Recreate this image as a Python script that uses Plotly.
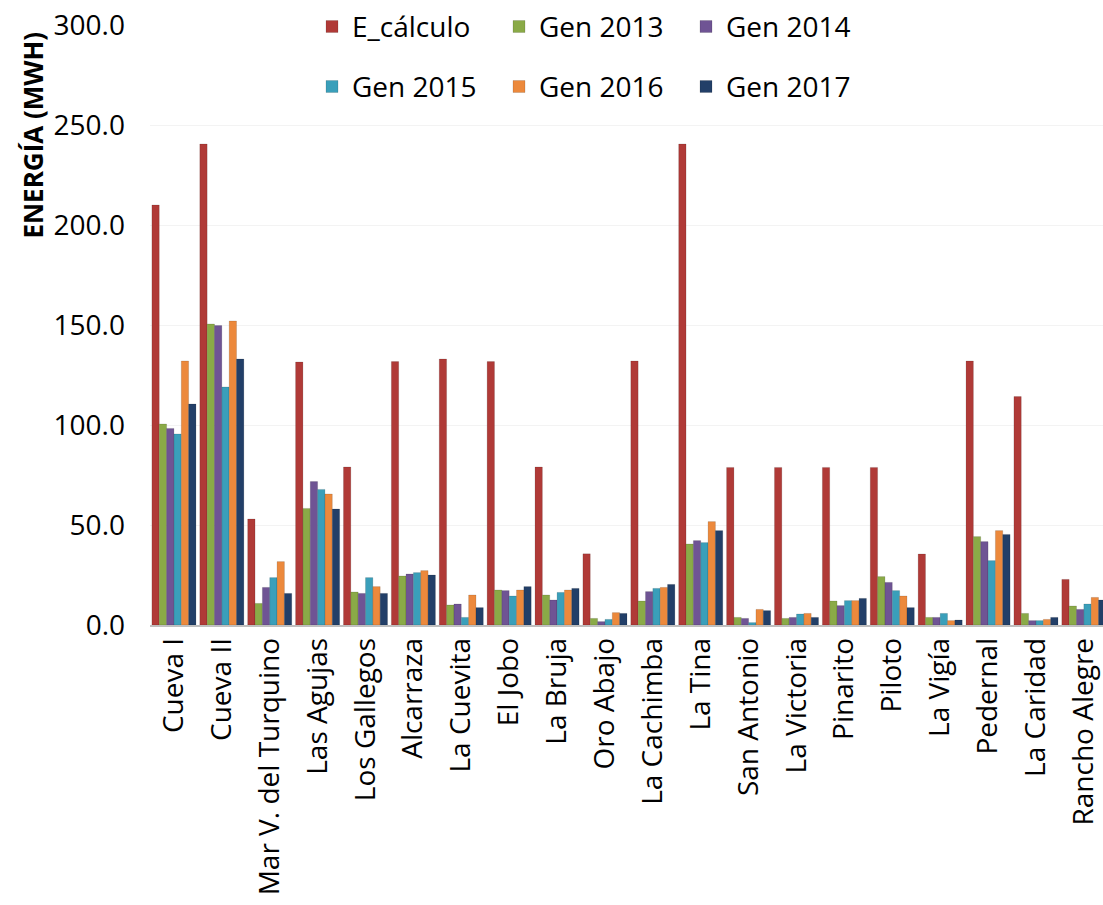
import plotly.graph_objects as go

categories = ["Cueva I", "Cueva II", "Mar V. del Turquino", "Las Agujas", "Los Gallegos",
              "Alcarraza", "La Cuevita", "El Jobo", "La Bruja", "Oro Abajo", "La Cachimba",
              "La Tina", "San Antonio", "La Victoria", "Pinarito", "Piloto", "La Vigía",
              "Pedernal", "La Caridad", "Rancho Alegre"]

e_calculo = [210.0, 240.5, 53.0, 131.5, 79.0, 131.7, 133.0, 131.7, 79.0, 35.6, 132.0,
             240.5, 78.8, 78.8, 78.8, 78.8, 35.5, 132.0, 114.2, 22.8]
gen_2013 = [100.5, 150.5, 10.8, 58.3, 16.5, 24.5, 10.0, 17.5, 15.0, 3.3, 12.0,
            40.5, 3.8, 3.3, 12.0, 24.2, 3.8, 44.2, 5.8, 9.5]
gen_2014 = [98.3, 149.7, 18.8, 71.7, 15.8, 25.5, 10.5, 17.2, 12.5, 1.7, 16.7,
            42.2, 3.3, 3.8, 9.7, 21.3, 3.8, 41.7, 2.2, 7.8]
gen_2015 = [95.5, 119.0, 23.7, 67.8, 23.7, 26.2, 3.8, 14.5, 16.3, 2.8, 18.3,
            41.2, 1.2, 5.5, 12.2, 17.2, 5.8, 32.2, 2.2, 10.5]
gen_2016 = [132.0, 152.0, 31.7, 65.5, 19.2, 27.2, 15.0, 17.5, 17.5, 6.2, 18.8,
            51.7, 7.8, 5.8, 12.2, 14.5, 2.2, 47.2, 2.8, 13.8]
gen_2017 = [110.5, 133.0, 15.8, 58.0, 15.8, 25.0, 8.7, 19.2, 18.3, 5.8, 20.3,
            47.2, 7.2, 3.8, 13.3, 8.7, 2.5, 45.3, 3.8, 12.5]

series_names = ["E_cálculo", "Gen 2013", "Gen 2014", "Gen 2015", "Gen 2016", "Gen 2017"]
series_values = [e_calculo, gen_2013, gen_2014, gen_2015, gen_2016, gen_2017]
colors = ["#B03A37", "#8AAA47", "#6F5494", "#3A9FBA", "#EC893C", "#223F68"]
legends = ["legend", "legend", "legend", "legend2", "legend2", "legend2"]

FONT = "Open Sans"
FS = 28

fig = go.Figure()
for name, vals, col, lg in zip(series_names, series_values, colors, legends):
    fig.add_trace(go.Bar(
        x=categories, y=vals, name=name, legend=lg,
        marker=dict(color=col, line=dict(color="rgba(0,0,0,0.25)", width=0.5)),
    ))

legend_common = dict(orientation="h", xanchor="left", yanchor="middle",
                     xref="paper", yref="paper",
                     entrywidth=142, entrywidthmode="pixels",
                     font=dict(family=FONT, size=FS), itemwidth=30,
                     bgcolor="rgba(0,0,0,0)")

fig.update_layout(
    width=1103, height=905,
    margin=dict(l=150, r=0, t=25, b=280),
    paper_bgcolor="white", plot_bgcolor="white",
    barmode="group", bargap=0.08, bargroupgap=0.0,
    font=dict(family=FONT, size=FS, color="black"),
    showlegend=True,
    legend=dict(x=0.17, y=0.997, **legend_common),
    legend2=dict(x=0.17, y=0.897, **legend_common),
    xaxis=dict(tickangle=-90, tickfont=dict(family=FONT, size=FS), showgrid=False,
               showline=True, linecolor="#BFBFBF", linewidth=1.5,
               range=[-0.5, 19.4], ticks=""),
    yaxis=dict(range=[0, 300], dtick=50, tickformat=".1f",
               tickfont=dict(family=FONT, size=FS),
               showgrid=True, gridcolor="#F3F3F3", zeroline=False,
               showline=False, ticks="", ticklabelstandoff=24),
    annotations=[dict(text="<b>ENERGÍA (MWH)</b>", textangle=-90,
                      xref="paper", yref="paper", x=-0.123, y=0.817,
                      xanchor="center", yanchor="middle", showarrow=False,
                      font=dict(family=FONT, size=26, color="black"))],
)

fig.write_html("out.html")
